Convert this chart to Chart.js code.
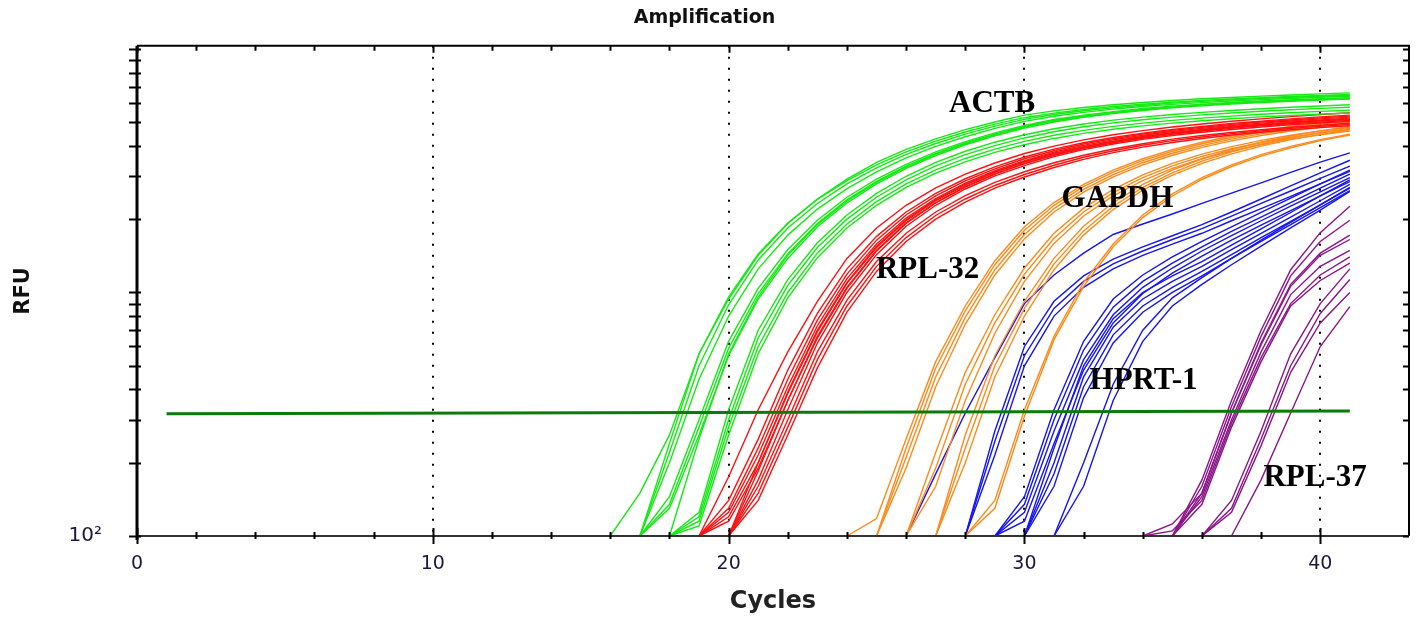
<!DOCTYPE html>
<html>
<head>
<meta charset="utf-8">
<script src="https://cdn.jsdelivr.net/npm/chart.js@4.4.1/dist/chart.umd.min.js"></script>
<style>
  html, body { margin: 0; padding: 0; background: #fff; overflow: hidden; }
  #wrap { width: 1416px; height: 618px; position: relative; }
  canvas { display: block; }
</style>
</head>
<body>
<div id="wrap"><canvas id="amp"></canvas></div>
<script>
// RFU per cycle for each well, starting at the cycle in *FirstCycle
const actbFirstCycle = [16, 17, 17, 17, 17, 17, 17, 18, 18, 18, 18, 18];
const actbRfu = [
    [100,150,260,560,940,1420,1920,2420,2920,3420,3870,4270,4660,5010,5350,5570,5750,5900,6030,6140,6240,6320,6400,6470,6540,6600],
    [100,240,560,960,1440,1930,2410,2880,3340,3780,4180,4560,4910,5220,5450,5640,5800,5930,6040,6140,6230,6310,6380,6440,6500],
    [100,220,500,890,1360,1840,2320,2790,3250,3690,4090,4470,4820,5140,5380,5570,5730,5870,5990,6090,6180,6260,6330,6390,6450],
    [100,200,440,800,1250,1720,2200,2670,3130,3570,3980,4360,4720,5040,5290,5490,5660,5800,5920,6020,6110,6190,6260,6330,6390],
    [100,145,300,630,1040,1500,1980,2460,2920,3360,3780,4160,4520,4850,5130,5350,5530,5690,5820,5930,6030,6110,6180,6250,6310],
    [100,135,280,590,990,1440,1920,2400,2860,3300,3720,4110,4470,4800,5080,5300,5490,5650,5780,5900,5990,6070,6150,6210,6270],
    [100,130,260,550,940,1380,1860,2330,2790,3230,3650,4040,4400,4730,5010,5240,5430,5590,5730,5840,5940,6020,6090,6160,6220],
    [100,250,560,960,1420,1900,2370,2830,3270,3690,4080,4440,4770,5060,5280,5470,5630,5770,5880,5980,6060,6130,6200,6260],
    [100,125,330,700,1130,1600,2080,2550,3000,3420,3800,4140,4440,4700,4920,5100,5250,5380,5490,5590,5680,5760,5830,5900],
    [100,120,300,650,1070,1530,2000,2460,2900,3310,3680,4010,4310,4570,4790,4970,5120,5250,5360,5460,5550,5630,5700,5760],
    [100,115,280,600,1000,1450,1910,2360,2790,3190,3550,3880,4170,4420,4630,4810,4960,5090,5200,5300,5390,5470,5540,5600],
    [100,110,260,560,950,1390,1840,2280,2700,3090,3440,3760,4040,4290,4500,4680,4830,4960,5070,5170,5260,5330,5400,5460]
];

const rpl32FirstCycle = [19, 19, 19, 19, 19, 19, 20, 20, 20, 20, 20, 20];
const rpl32Rfu = [
    [100,175,330,570,920,1380,1840,2280,2690,3060,3400,3720,3990,4230,4440,4620,4780,4920,5050,5160,5270,5380,5470],
    [100,140,250,480,820,1250,1700,2140,2550,2930,3280,3600,3880,4120,4330,4510,4670,4810,4940,5050,5160,5260,5350],
    [100,130,230,440,770,1190,1640,2080,2490,2870,3220,3540,3820,4070,4280,4470,4630,4770,4900,5010,5110,5210,5300],
    [100,125,215,410,730,1140,1580,2020,2430,2810,3160,3480,3770,4020,4230,4420,4580,4720,4850,4960,5060,5160,5250],
    [100,120,200,385,690,1090,1530,1970,2380,2760,3110,3430,3720,3970,4180,4370,4530,4670,4800,4910,5010,5110,5200],
    [100,115,190,360,650,1040,1480,1920,2330,2710,3060,3380,3670,3920,4140,4330,4490,4630,4760,4870,4970,5070,5150],
    [100,200,390,700,1100,1550,1990,2400,2780,3130,3440,3720,3960,4170,4350,4510,4650,4770,4880,4980,5060,5140],
    [100,185,360,660,1050,1490,1930,2340,2720,3070,3380,3660,3910,4120,4300,4460,4600,4720,4830,4930,5010,5090],
    [100,170,330,620,1000,1430,1870,2280,2660,3010,3320,3610,3860,4070,4250,4410,4550,4670,4780,4880,4960,5040],
    [100,160,300,570,930,1340,1750,2140,2500,2830,3130,3410,3660,3880,4080,4260,4410,4540,4660,4770,4860,4950],
    [100,150,280,530,880,1280,1680,2070,2420,2750,3050,3330,3590,3820,4020,4200,4350,4490,4610,4720,4810,4900],
    [100,140,260,490,830,1220,1620,2000,2350,2680,2980,3260,3520,3750,3950,4130,4290,4430,4550,4660,4750,4840]
];

const gapdhFirstCycle = [24, 25, 25, 25, 26, 26, 26, 27, 27, 27, 28, 28];
const gapdhRfu = [
    [100,118,250,520,880,1350,1860,2340,2780,3180,3540,3860,4140,4390,4610,4800,4970,5120],
    [100,230,490,840,1300,1800,2280,2720,3120,3480,3800,4080,4330,4550,4740,4910,5060],
    [100,210,450,790,1240,1730,2210,2650,3050,3410,3730,4010,4260,4480,4670,4840,4990],
    [100,190,410,740,1180,1660,2140,2580,2980,3340,3660,3940,4190,4410,4600,4770,4920],
    [100,220,470,810,1260,1750,2220,2650,3040,3390,3700,3970,4210,4420,4600,4760],
    [100,190,420,750,1190,1670,2140,2570,2960,3310,3620,3890,4130,4340,4520,4680],
    [100,160,360,680,1110,1590,2060,2490,2880,3230,3540,3810,4050,4260,4440,4600],
    [100,260,550,920,1380,1870,2340,2780,3180,3540,3860,4140,4390,4610,4800],
    [100,230,500,860,1310,1790,2260,2700,3100,3460,3780,4060,4310,4530,4720],
    [100,200,450,800,1240,1720,2190,2630,3030,3390,3710,3990,4240,4460,4650],
    [100,140,330,660,1100,1580,2080,2540,2960,3340,3680,3980,4240,4470],
    [100,130,310,640,1060,1540,2030,2490,2910,3290,3630,3930,4200,4430]
];

const hprt1FirstCycle = [26, 28, 28, 28, 29, 29, 29, 29, 30, 30, 30, 30, 31, 31];
const hprt1Rfu = [
    [100,180,320,540,900,1180,1450,1730,1910,2100,2320,2560,2820,3110,3430,3740],
    [100,270,600,920,1170,1370,1540,1710,1900,2140,2420,2740,3100,3490],
    [100,245,550,860,1110,1310,1480,1650,1830,2060,2320,2610,2940,3300],
    [100,215,500,800,1050,1250,1420,1580,1750,1970,2210,2480,2790,3140],
    [100,145,330,630,940,1180,1400,1620,1860,2130,2440,2790,3180],
    [100,135,300,580,870,1110,1320,1540,1780,2040,2340,2680,3060],
    [100,125,270,530,810,1050,1260,1480,1710,1970,2260,2590,2960],
    [100,115,240,480,750,990,1200,1410,1640,1890,2170,2490,2850],
    [100,230,500,780,1000,1170,1340,1565,1825,2130,2490,2900],
    [100,200,450,720,940,1110,1280,1500,1750,2040,2380,2780],
    [100,180,410,670,880,1050,1220,1430,1680,1960,2290,2680],
    [100,160,370,620,830,1000,1170,1380,1620,1900,2230,2620],
    [100,200,420,700,950,1150,1380,1640,1940,2290,2700],
    [100,160,360,630,880,1080,1300,1550,1840,2180,2600]
];

const rpl37FirstCycle = [35, 35, 34, 35, 35, 34, 35, 36, 36, 36, 37];
const rpl37Rfu = [
    [100,170,360,700,1240,1760,2260],
    [100,160,340,660,1170,1620,1980],
    [100,112,150,320,620,1080,1450,1720],
    [100,150,320,610,1060,1420,1650],
    [100,145,300,570,980,1280,1490],
    [100,105,140,290,540,900,1180,1400],
    [100,135,280,520,880,1120,1320],
    [100,140,270,560,900,1250],
    [100,130,250,500,820,1130],
    [100,125,235,470,750,1000],
    [100,170,320,600,875]
];

const thresholdCycles = [1, 41];
const thresholdRfu = [318, 326];

const geneNames = ['ACTB', 'GAPDH', 'RPL-32', 'HPRT-1', 'RPL-37'];
const geneLabelCycle = [27.45, 31.25, 24.98, 32.2, 38.08];
const geneLabelRfu = [5530, 2245, 1147, 401, 160];

function wellsToDatasets(firstCycles, wells, color) {
    return wells.map((rfu, i) => ({
        data: rfu.map((v, k) => ({x: firstCycles[i] + k, y: v})),
        borderColor: color,
        borderWidth: 1.4,
        pointRadius: 0,
        fill: false,
        tension: 0
    }));
}

const datasets = [
    {
        data: thresholdCycles.map((c, i) => ({x: c, y: thresholdRfu[i]})),
        borderColor: '#0b7a0b',
        borderWidth: 3,
        pointRadius: 0,
        fill: false
    },
    ...wellsToDatasets(actbFirstCycle, actbRfu, '#14ea14'),
    ...wellsToDatasets(rpl32FirstCycle, rpl32Rfu, '#ff1111'),
    ...wellsToDatasets(gapdhFirstCycle, gapdhRfu, '#ff8a1c'),
    ...wellsToDatasets(hprt1FirstCycle, hprt1Rfu, '#1414f5'),
    ...wellsToDatasets(rpl37FirstCycle, rpl37Rfu, '#8a168a')
];

// dotted verticals, box frame, inner ticks and the gene names
const framePlugin = {
    id: 'frame',
    beforeDatasetsDraw(chart) {
        const {ctx, chartArea: a, scales: {x}} = chart;
        ctx.save();
        ctx.strokeStyle = '#000';
        ctx.lineWidth = 2;
        ctx.setLineDash([2, 9]);
        x.ticks.forEach(t => {
            if (t.value === 0 || t.value % 10 !== 0) return;
            const px = Math.round(x.getPixelForValue(t.value));
            ctx.beginPath();
            ctx.moveTo(px, a.top);
            ctx.lineTo(px, a.bottom);
            ctx.stroke();
        });
        ctx.restore();
    },
    afterDatasetsDraw(chart) {
        const {ctx, scales: {x, y}} = chart;
        ctx.save();
        ctx.fillStyle = '#000';
        ctx.font = 'bold 31px "Liberation Serif", "Times New Roman", serif';
        ctx.textAlign = 'left';
        ctx.textBaseline = 'alphabetic';
        geneNames.forEach((name, i) => {
            ctx.fillText(name, x.getPixelForValue(geneLabelCycle[i]), y.getPixelForValue(geneLabelRfu[i]));
        });
        ctx.restore();
    },
    afterDraw(chart) {
        const {ctx, chartArea: a, scales: {x, y}} = chart;
        ctx.save();
        ctx.setLineDash([]);
        ctx.strokeStyle = '#000';
        // box
        ctx.lineWidth = 2;
        ctx.beginPath();
        ctx.moveTo(a.left, a.top);
        ctx.lineTo(a.right, a.top);
        ctx.lineTo(a.right, a.bottom);
        ctx.stroke();
        ctx.strokeStyle = '#333';
        ctx.beginPath();
        ctx.moveTo(a.left, a.bottom);
        ctx.lineTo(a.right, a.bottom);
        ctx.stroke();
        ctx.strokeStyle = '#000';
        ctx.lineWidth = 3;
        ctx.beginPath();
        ctx.moveTo(a.left, a.top);
        ctx.lineTo(a.left, a.bottom + 4);
        ctx.stroke();

        ctx.lineWidth = 2;
        x.ticks.forEach(t => {
            if (t.value % 2 !== 0) return;
            const px = Math.round(x.getPixelForValue(t.value)) + 0.5;
            const major = t.value % 10 === 0;
            ctx.beginPath();
            ctx.moveTo(px, a.bottom - (major ? 8 : 4));
            ctx.lineTo(px, a.bottom + (major ? 8 : 3));
            ctx.moveTo(px, a.top);
            ctx.lineTo(px, a.top + (major ? 7 : 5));
            ctx.stroke();
        });
        y.ticks.forEach(t => {
            const m = t.value / Math.pow(10, Math.floor(Math.log10(t.value)));
            if (Math.abs(m - Math.round(m)) > 1e-6) return;
            const py = Math.round(y.getPixelForValue(t.value)) + 0.5;
            ctx.beginPath();
            ctx.moveTo(a.left - 8, py);
            ctx.lineTo(a.left + 4, py);
            ctx.moveTo(a.right - 6, py);
            ctx.lineTo(a.right, py);
            ctx.stroke();
        });
        ctx.restore();
    }
};

// invisible tick marks give the label offset without side padding
const hiddenGrid = len => ({
    display: true,
    drawOnChartArea: false,
    drawTicks: true,
    tickLength: len,
    color: 'rgba(0,0,0,0)'
});

new Chart(document.getElementById('amp'), {
    type: 'line',
    data: {datasets: datasets},
    options: {
        responsive: true,
        maintainAspectRatio: false,
        devicePixelRatio: 1,
        animation: false,
        layout: {padding: {left: 0, right: 7, top: 0, bottom: 0}},
        plugins: {
            legend: {display: false},
            tooltip: {enabled: false},
            title: {
                display: true,
                text: 'Amplification',
                color: '#111',
                font: {family: 'DejaVu Sans', size: 19, weight: 'bold'},
                padding: {top: 7, bottom: 16}
            }
        },
        scales: {
            x: {
                type: 'linear',
                min: 0,
                max: 43,
                afterFit: s => { s.height = 82; },
                grid: hiddenGrid(17),
                border: {display: false},
                ticks: {
                    stepSize: 2,
                    autoSkip: false,
                    maxRotation: 0,
                    padding: 0,
                    color: '#1d1640',
                    font: {family: 'DejaVu Sans', size: 19},
                    callback: v => (v % 10 === 0 ? String(v) : '')
                },
                title: {
                    display: true,
                    text: 'Cycles',
                    color: '#222',
                    font: {family: 'DejaVu Sans', size: 24, weight: 'bold'},
                    padding: {top: 0, bottom: 2}
                }
            },
            y: {
                type: 'logarithmic',
                min: 100,
                max: 10300,
                afterFit: s => { s.width = 137; },
                grid: hiddenGrid(35),
                border: {display: false},
                ticks: {
                    autoSkip: false,
                    padding: 0,
                    color: '#1d1640',
                    font: {family: 'DejaVu Sans', size: 20},
                    callback: v => (v === 100 ? '10\u00b2' : '')
                },
                title: {
                    display: true,
                    text: 'RFU',
                    color: '#111',
                    font: {family: 'DejaVu Sans', size: 21, weight: 'bold'},
                    padding: {top: 11, bottom: 0}
                }
            }
        }
    },
    plugins: [framePlugin]
});
</script>
</body>
</html>
